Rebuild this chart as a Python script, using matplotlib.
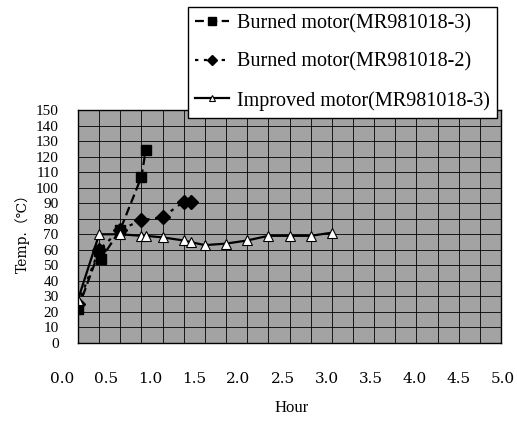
import numpy as np
import matplotlib
matplotlib.use("Agg")
import matplotlib.pyplot as plt

# dados
hora_b3 = [0, 0.25, 0.27, 0.5, 0.75, 0.8]
temp_b3 = [22, 59, 54, 73, 107, 124]

hora_b2 = [0, 0.25, 0.5, 0.75, 1.0, 1.25, 1.33]
temp_b2 = [25, 60, 73, 79, 81, 91, 91]

hora_imp = [0, 0.25, 0.5, 0.75, 0.8, 1.0, 1.25, 1.33, 1.5, 1.75, 2.0, 2.25, 2.5, 2.75, 3.0]
temp_imp = [28, 70, 70, 69, 69, 68, 66, 65, 63, 64, 66, 69, 69, 69, 71]

nomes = ["Burned motor(MR981018-3)", "Burned motor(MR981018-2)", "Improved motor(MR981018-3)"]
xticks = np.arange(0, 5.01, 0.5)
yticks = np.arange(0, 151, 10)

W, H = 517, 426
fig = plt.figure(figsize=(W / 100, H / 100), dpi=100)
ax = fig.add_axes([78 / W, 83 / H, 423 / W, 233 / H])
ax.set_facecolor("#a3a3a3")

l1, = ax.plot(hora_b3, temp_b3, color="black", ls=(0, (4, 2)), lw=1.6,
              marker="s", ms=7.5, mfc="black", mec="black")
l2, = ax.plot(hora_b2, temp_b2, color="black", ls=(0, (1.5, 2.5)), lw=1.6,
              marker="D", ms=7, mfc="black", mec="black")
l3, = ax.plot(hora_imp, temp_imp, color="black", ls="-", lw=1.6,
              marker="^", ms=7, mfc="white", mec="black", mew=0.8)

ax.set_xlim(0, 5)
ax.set_ylim(0, 150)
ax.set_xticks(np.arange(0, 5.01, 0.25))
ax.set_xticklabels([])
ax.set_yticks(yticks)
ax.set_yticklabels([str(v) for v in yticks], family="Liberation Serif", fontsize=11)
ax.tick_params(length=0, pad=14)
ax.grid(True, color="black", lw=0.6)
ax.set_axisbelow(True)
for s in ax.spines.values():
    s.set_color("black")
    s.set_linewidth(1)

# rótulos do eixo x (deslocados como no original)
lab = fig.add_axes([62 / W, 83 / H, 441 / W, 0.0001])
lab.set_xlim(0, 5)
lab.set_xticks(xticks)
lab.set_xticklabels([f"{v:.1f}" for v in xticks], family="DejaVu Serif", fontsize=11)
lab.set_yticks([])
lab.tick_params(length=0, pad=21)
for s in lab.spines.values():
    s.set_visible(False)
lab.patch.set_visible(False)

fig.text(292 / W, 1 - 408 / H, "Hour", family="Liberation Serif", fontsize=12,
         ha="center", va="center")
fig.text(22 / W, 1 - 230 / H, "Temp.（℃）", family=["DejaVu Serif", "Noto Sans CJK JP"],
         fontsize=10, rotation=90, ha="center", va="center")

leg = fig.legend([l1, l2, l3], nomes, loc="upper right",
                 bbox_to_anchor=(497 / W, 1 - 7 / H), frameon=True, fancybox=False,
                 prop={"family": "Liberation Serif", "size": 14.5},
                 markerscale=0.7, handlelength=1.7, handletextpad=0.4,
                 labelspacing=0.95, borderpad=0.35, borderaxespad=0)
leg.get_frame().set_edgecolor("black")
leg.get_frame().set_linewidth(1)
leg.get_frame().set_alpha(1)

fig.savefig("out.png", dpi=100)
